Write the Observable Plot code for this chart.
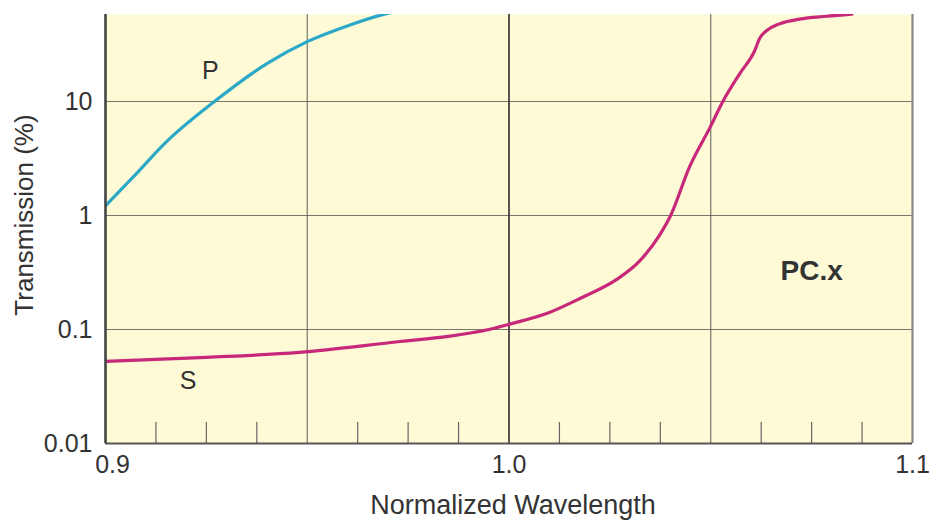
<!DOCTYPE html>
<html>
<head>
<meta charset="utf-8">
<script src="https://cdn.jsdelivr.net/npm/d3@7"></script>
<script src="https://cdn.jsdelivr.net/npm/@observablehq/plot@0.6"></script>
<style>
  html, body { margin: 0; padding: 0; background: #ffffff; }
  #chart { width: 936px; height: 520px; }
</style>
</head>
<body>
<div id="chart"></div>
<script>
// ---- data ----
const pX = [0.9, 0.907, 0.915, 0.927, 0.94, 0.95, 0.9606, 0.968, 0.976];
const pY = [1.22, 2.2, 4.4, 10, 21.5, 33.5, 47, 57, 66];

const sX = [0.9, 0.925, 0.948, 0.973, 0.985, 0.995, 1.0, 1.01, 1.018, 1.0267, 1.0324, 1.0374, 1.04, 1.0448, 1.0498, 1.053, 1.0572, 1.0609, 1.0621, 1.0639, 1.067, 1.072, 1.0787, 1.085];
const sY = [0.0525, 0.057, 0.063, 0.0785, 0.087, 0.1, 0.111, 0.141, 0.19, 0.275, 0.4, 0.68, 0.99, 2.7, 5.9, 10, 17.6, 28, 35.7, 42, 48, 52.8, 56, 58.5];

const xTicks = [0.9, 1.0, 1.1];
const xTickLabels = ["0.9", "1.0", "1.1"];
const xMinorTicks = [0.9125, 0.925, 0.9375, 0.9625, 0.975, 0.9875, 1.0125, 1.025, 1.0375, 1.0625, 1.075, 1.0875];
const xGrid = [0.95, 1.05];
const yTicks = [0.01, 0.1, 1, 10];
const yTickLabels = ["0.01", "0.1", "1", "10"];
const yGrid = [0.1, 1, 10];

const labels = [
  {x: 0.926, y: 18.7, text: "P", bold: false},
  {x: 0.9205, y: 0.035, text: "S", bold: false},
  {x: 1.075, y: 0.323, text: "PC.x", bold: true}
];

const pData = pX.map((x, i) => ({x, y: pY[i]}));
const sData = sX.map((x, i) => ({x, y: sY[i]}));

const ink = "#333333";
const font = "'Liberation Sans', Arial, Helvetica, sans-serif";

const chart = Plot.plot({
  width: 936,
  height: 520,
  marginLeft: 105,
  marginRight: 24,
  marginTop: 14,
  marginBottom: 77,
  style: {fontFamily: font, color: ink, background: "#ffffff"},
  x: {domain: [0.9, 1.1]},
  y: {type: "log", domain: [0.01, 58]},
  marks: [
    Plot.frame({fill: "#fefad6", stroke: null}),
    Plot.ruleY(yGrid, {stroke: "#555", strokeOpacity: 0.8, strokeWidth: 1.2}),
    Plot.ruleX(xGrid, {stroke: "#555", strokeOpacity: 0.8, strokeWidth: 1.2}),
    Plot.ruleX([1.0], {stroke: "#444", strokeWidth: 1.8}),
    Plot.axisX({ticks: xMinorTicks, tickSize: -21, text: null, stroke: "#666", strokeWidth: 1.2, label: null}),
    Plot.line(pData, {x: "x", y: "y", stroke: "#2ba8c8", strokeWidth: 3.2, curve: "monotone-x", clip: true}),
    Plot.line(sData, {x: "x", y: "y", stroke: "#c8287a", strokeWidth: 3.2, curve: "monotone-x", clip: true}),
    Plot.ruleX([1.1], {stroke: "#888", strokeWidth: 2.2}),
    Plot.ruleY([0.01], {stroke: "#555", strokeWidth: 2.2}),
    Plot.ruleX([0.9], {stroke: "#444", strokeWidth: 2.6}),
    Plot.axisY({ticks: yTicks, tickFormat: (d) => yTickLabels[yTicks.indexOf(d)], tickSize: 0, tickPadding: 13, fontSize: 25, label: null}),
    Plot.axisX({ticks: [xTicks[0]], tickFormat: () => xTickLabels[0], tickSize: 0, tickPadding: 12, dx: 7, fontSize: 25, label: null}),
    Plot.axisX({ticks: xTicks.slice(1), tickFormat: (d) => xTickLabels[xTicks.indexOf(d)], tickSize: 0, tickPadding: 12, fontSize: 25, label: null}),
    Plot.text(["Transmission (%)"], {frameAnchor: "left", textAnchor: "middle", lineAnchor: "middle", dx: -81, dy: -14, rotate: -90, fontSize: 26, fill: ink}),
    Plot.text(["Normalized Wavelength"], {frameAnchor: "bottom", lineAnchor: "middle", dx: 4, dy: 62, fontSize: 27, fill: ink}),
    Plot.text(labels.filter(d => !d.bold), {x: "x", y: "y", text: "text", fontSize: 25, fill: ink}),
    Plot.text(labels.filter(d => d.bold), {x: "x", y: "y", text: "text", fontSize: 28, fontWeight: "bold", fill: ink})
  ]
});
document.getElementById("chart").appendChild(chart);
</script>
</body>
</html>
